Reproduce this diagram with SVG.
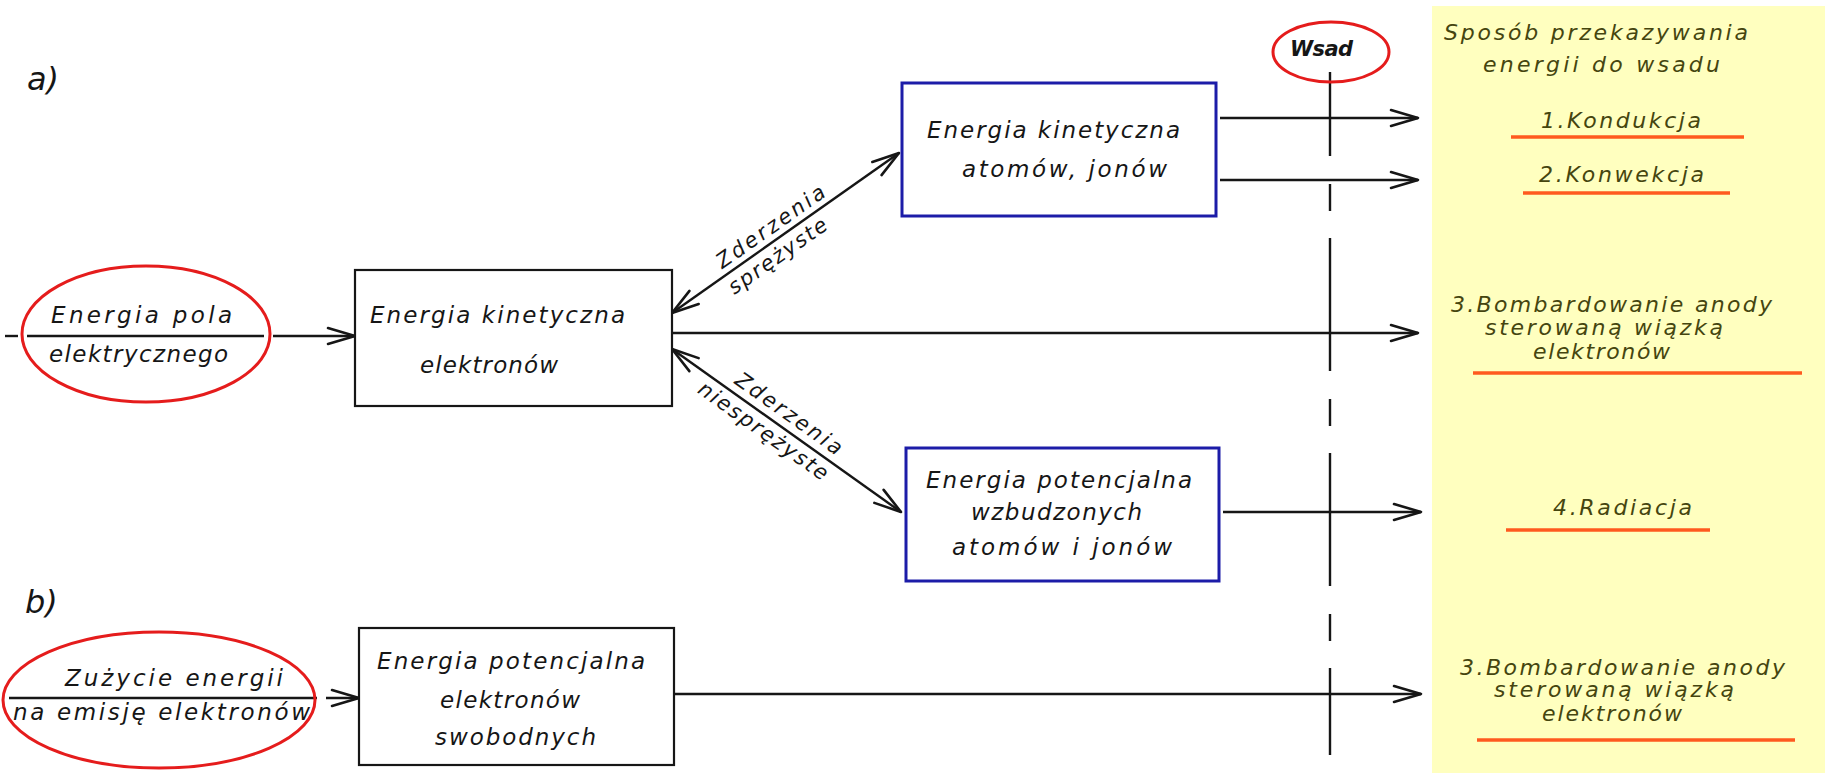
<svg xmlns="http://www.w3.org/2000/svg" width="1825" height="773" viewBox="0 0 1825 773">
<style>
  text { font-family: "DejaVu Sans", "Liberation Sans", sans-serif; font-style: italic; fill: #161616; font-size: 23px; }
  .panel text { fill: #45450f; font-size: 22px; }
  .lbl { font-size: 21px; }
  .big { font-size: 32px; }
  .box { fill: #ffffff; stroke: #161616; stroke-width: 2.2; }
  .bbox { fill: #ffffff; stroke: #1c1ca8; stroke-width: 3; }
  .ell { fill: none; stroke: #e51c1c; stroke-width: 3; }
  .ln { stroke: #161616; stroke-width: 2.4; fill: none; }
  .ul { stroke: #ff5a1f; stroke-width: 3.5; }
</style>
<defs>
  <marker id="ah" viewBox="-30 -10 32 20" refX="0" refY="0" markerWidth="32" markerHeight="20" markerUnits="userSpaceOnUse" orient="auto-start-reverse">
    <path d="M-27,-8 L0,0 L-27,8" fill="none" stroke="#161616" stroke-width="2.6" stroke-linecap="round" stroke-linejoin="round"/>
  </marker>
</defs>
<rect x="0" y="0" width="1825" height="773" fill="#ffffff"/>

<g id="panel" class="panel">
  <rect x="1432" y="6" width="393" height="767" fill="#ffffbf"/>
  <text x="1444" y="40" textLength="304" lengthAdjust="spacing">Sposób  przekazywania</text>
  <text x="1483" y="72" textLength="237" lengthAdjust="spacing">energii  do  wsadu</text>
  <text x="1541" y="128" textLength="160" lengthAdjust="spacing">1.Kondukcja</text>
  <line class="ul" x1="1511" y1="137" x2="1744" y2="137"/>
  <text x="1539" y="182" textLength="165" lengthAdjust="spacing">2.Konwekcja</text>
  <line class="ul" x1="1523" y1="193" x2="1730" y2="193"/>
  <text x="1451" y="312" textLength="321" lengthAdjust="spacing">3.Bombardowanie  anody</text>
  <text x="1485" y="335" textLength="238" lengthAdjust="spacing">sterowaną  wiązką</text>
  <text x="1533" y="359" textLength="137" lengthAdjust="spacing">elektronów</text>
  <line class="ul" x1="1473" y1="373" x2="1802" y2="373"/>
  <text x="1553" y="515" textLength="139" lengthAdjust="spacing">4.Radiacja</text>
  <line class="ul" x1="1506" y1="530" x2="1710" y2="530"/>
  <text x="1460" y="675" textLength="325" lengthAdjust="spacing">3.Bombardowanie  anody</text>
  <text x="1494" y="697" textLength="240" lengthAdjust="spacing">sterowaną  wiązką</text>
  <text x="1542" y="721" textLength="140" lengthAdjust="spacing">elektronów</text>
  <line class="ul" x1="1477" y1="740" x2="1795" y2="740"/>
</g>

<g id="label-a"><text class="big" x="27" y="90">a)</text></g>
<g id="label-b"><text class="big" x="25" y="613">b)</text></g>

<g id="connectors">
  <line class="ln" x1="5" y1="336" x2="18" y2="336"/>
  <line class="ln" x1="27" y1="336" x2="264" y2="336"/>
  <line class="ln" x1="273" y1="336" x2="355" y2="336" marker-end="url(#ah)"/>
  <line class="ln" x1="672" y1="313" x2="899" y2="153" marker-start="url(#ah)" marker-end="url(#ah)"/>
  <line class="ln" x1="672" y1="333" x2="1418" y2="333" marker-end="url(#ah)"/>
  <line class="ln" x1="672" y1="349" x2="901" y2="512" marker-start="url(#ah)" marker-end="url(#ah)"/>
  <line class="ln" x1="1220" y1="118" x2="1418" y2="118" marker-end="url(#ah)"/>
  <line class="ln" x1="1220" y1="180" x2="1418" y2="180" marker-end="url(#ah)"/>
  <line class="ln" x1="1223" y1="512" x2="1421" y2="512" marker-end="url(#ah)"/>
  <line class="ln" x1="9" y1="698" x2="317" y2="698"/>
  <line class="ln" x1="326" y1="698" x2="359" y2="698" marker-end="url(#ah)"/>
  <line class="ln" x1="674" y1="694" x2="1421" y2="694" marker-end="url(#ah)"/>
  <line class="ln" x1="1330" y1="72" x2="1330" y2="755" stroke-dasharray="133 28 27 27" stroke-dashoffset="49"/>
  <g transform="translate(786,233) rotate(-35.2)">
    <text class="lbl" x="-9" y="-7" text-anchor="middle" textLength="128" lengthAdjust="spacing">Zderzenia</text>
    <text class="lbl" x="-20" y="21" text-anchor="middle" textLength="116" lengthAdjust="spacing">sprężyste</text>
  </g>
  <g transform="translate(786,430) rotate(35.4)">
    <text class="lbl" x="-7" y="-8" text-anchor="middle" textLength="126" lengthAdjust="spacing">Zderzenia</text>
    <text class="lbl" x="-18" y="21" text-anchor="middle" textLength="154" lengthAdjust="spacing">niesprężyste</text>
  </g>
</g>

<g id="node-energia-pola">
  <ellipse class="ell" cx="146" cy="334" rx="124" ry="68"/>
  <text x="51" y="323" textLength="181" lengthAdjust="spacing">Energia  pola</text>
  <text x="49" y="362" textLength="179" lengthAdjust="spacing">elektrycznego</text>
</g>

<g id="node-kin-elektronow">
  <rect class="box" x="355" y="270" width="317" height="136"/>
  <text x="370" y="323" textLength="255" lengthAdjust="spacing">Energia  kinetyczna</text>
  <text x="420" y="373" textLength="138" lengthAdjust="spacing">elektronów</text>
</g>

<g id="node-kin-atomow">
  <rect class="bbox" x="902" y="83" width="314" height="133"/>
  <text x="927" y="138" textLength="253" lengthAdjust="spacing">Energia  kinetyczna</text>
  <text x="962" y="177" textLength="205" lengthAdjust="spacing">atomów,  jonów</text>
</g>

<g id="node-pot-wzbudzonych">
  <rect class="bbox" x="906" y="448" width="313" height="133"/>
  <text x="926" y="488" textLength="266" lengthAdjust="spacing">Energia  potencjalna</text>
  <text x="971" y="520" textLength="171" lengthAdjust="spacing">wzbudzonych</text>
  <text x="952" y="555" textLength="220" lengthAdjust="spacing">atomów  i  jonów</text>
</g>

<g id="node-wsad">
  <ellipse class="ell" cx="1331" cy="52" rx="58" ry="30"/>
  <text x="1290" y="56" style="font-weight:bold;font-size:21px" textLength="63" lengthAdjust="spacing">Wsad</text>
</g>

<g id="node-zuzycie">
  <ellipse class="ell" cx="159" cy="700" rx="156" ry="68"/>
  <text x="65" y="686" textLength="218" lengthAdjust="spacing">Zużycie  energii</text>
  <text x="13" y="720" textLength="297" lengthAdjust="spacing">na  emisję  elektronów</text>
</g>

<g id="node-pot-swobodnych">
  <rect class="box" x="359" y="628" width="315" height="137"/>
  <text x="377" y="669" textLength="268" lengthAdjust="spacing">Energia  potencjalna</text>
  <text x="440" y="708" textLength="140" lengthAdjust="spacing">elektronów</text>
  <text x="435" y="745" textLength="161" lengthAdjust="spacing">swobodnych</text>
</g>
</svg>
